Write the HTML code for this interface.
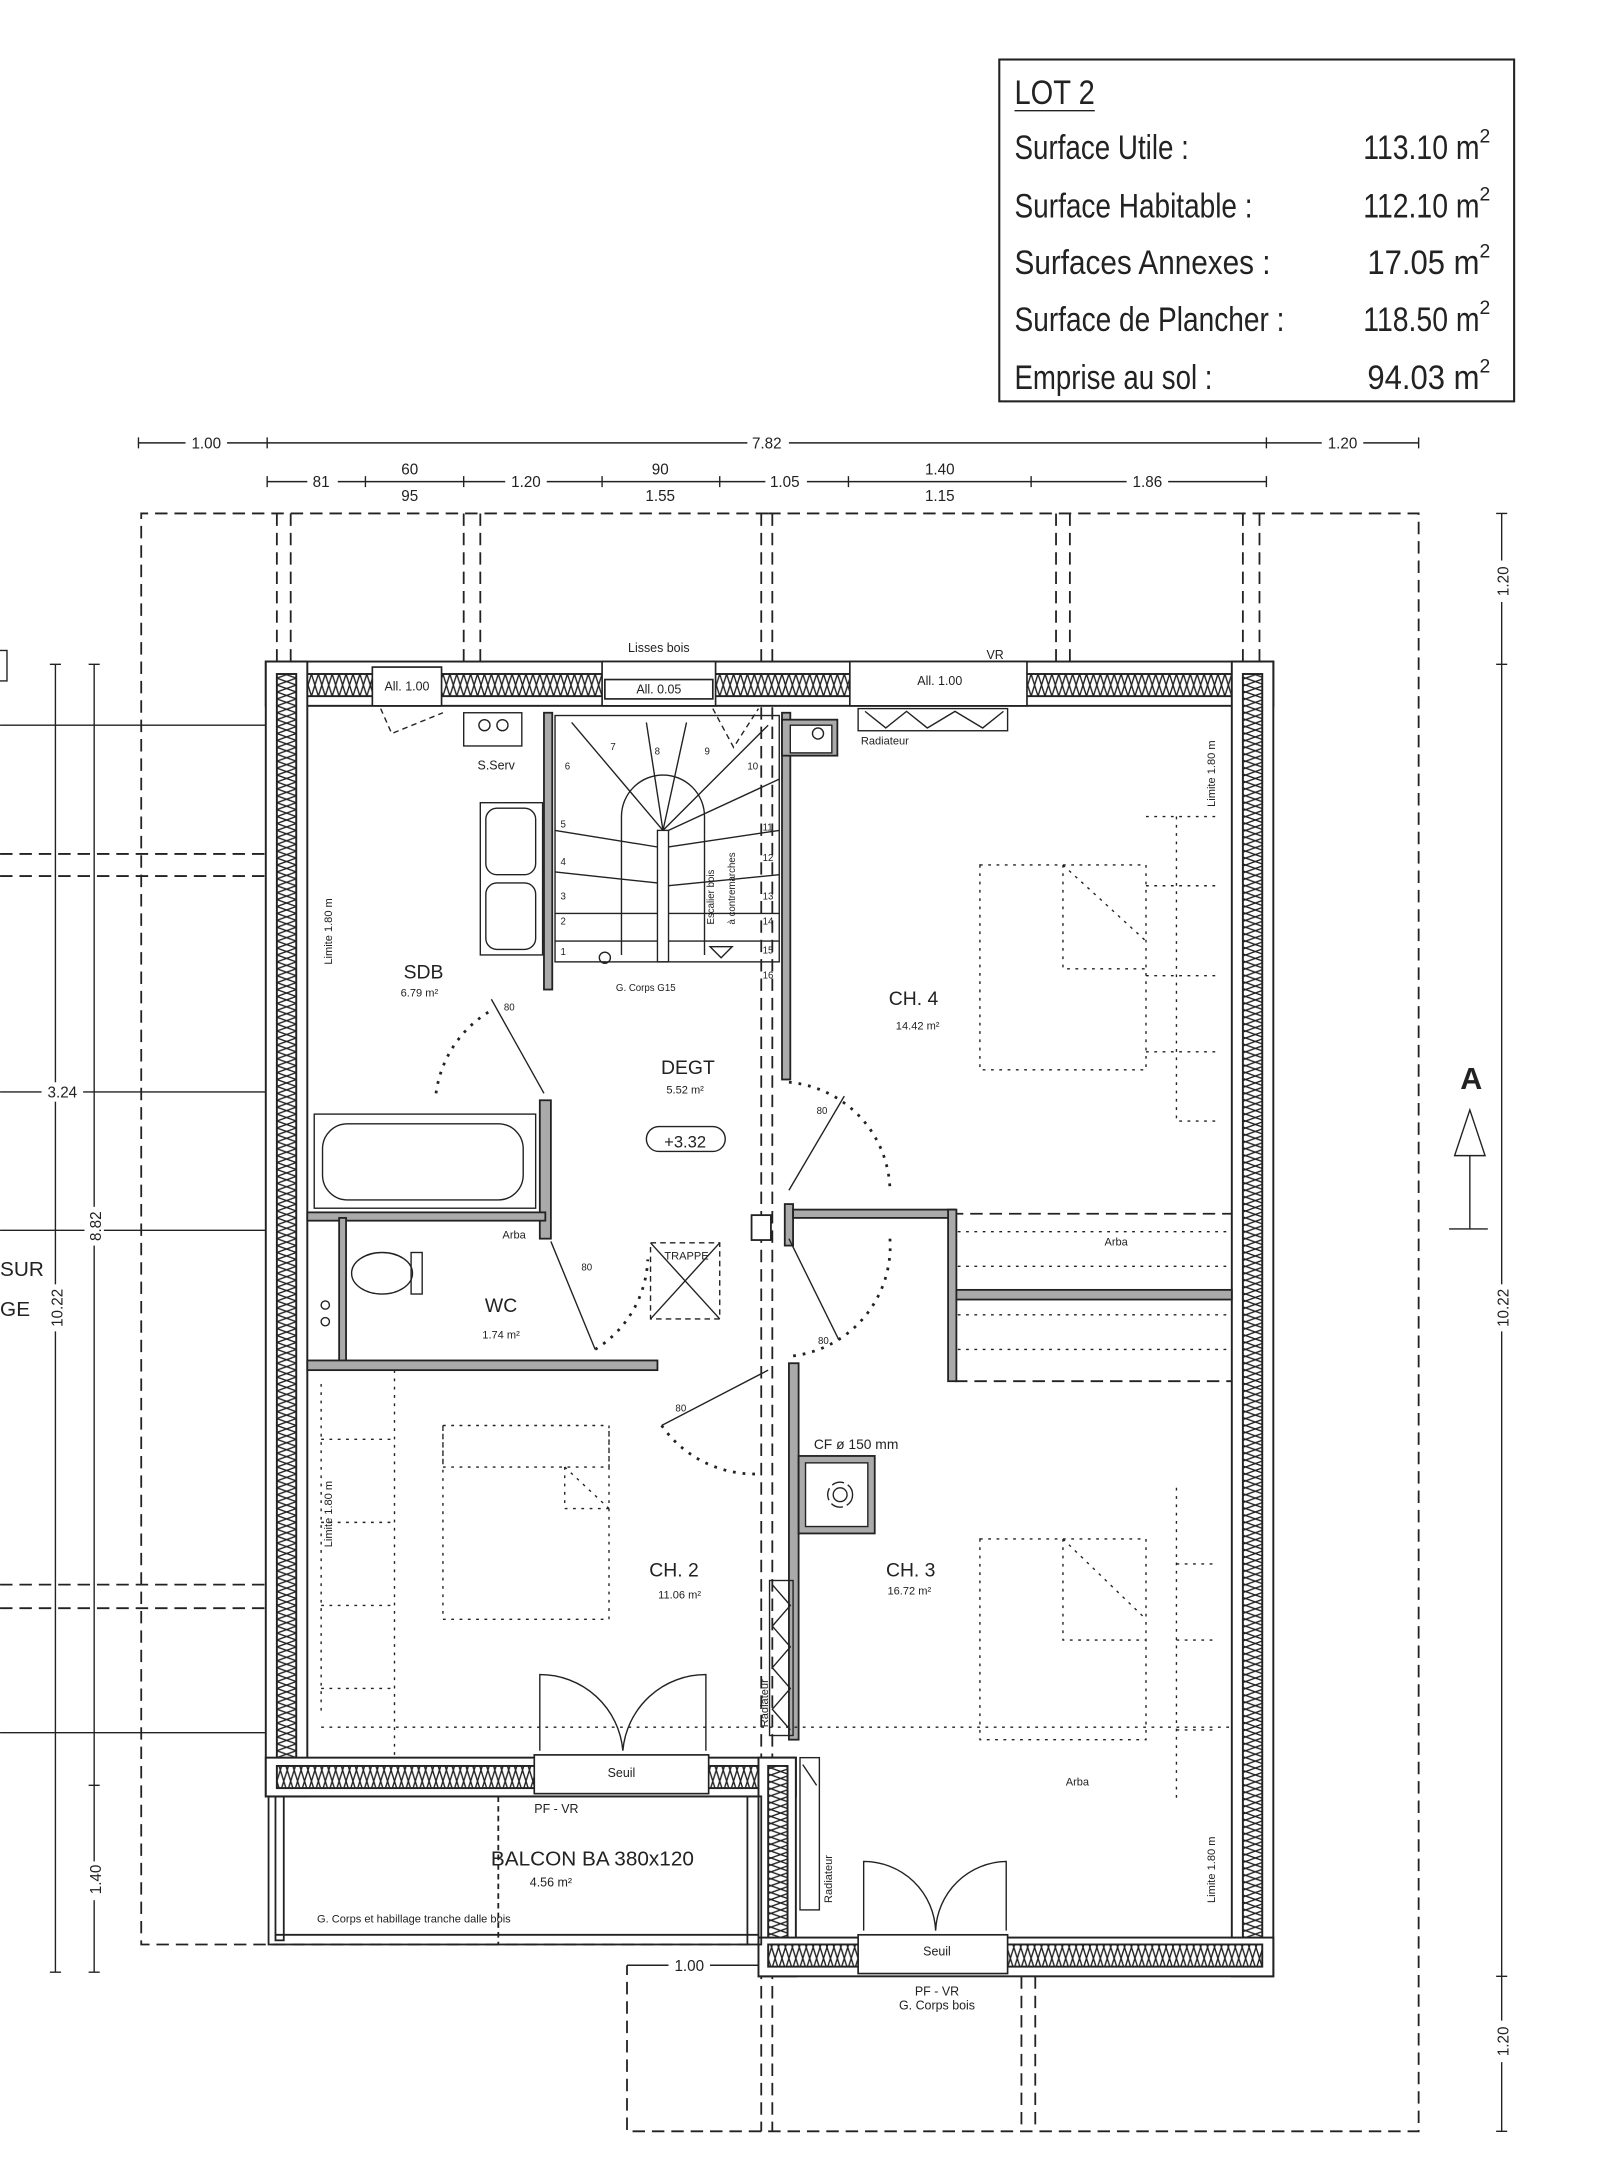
<!DOCTYPE html>
<html><head><meta charset="utf-8">
<style>
html,body{margin:0;padding:0;background:#fff;}
svg{display:block;}
text{font-family:"Liberation Sans",sans-serif;fill:#222;}
.n{font-family:"Liberation Sans Narrow","Liberation Sans",sans-serif;}
</style></head><body>
<svg width="1600" height="2177" viewBox="0 0 1156 1573" xmlns="http://www.w3.org/2000/svg">
<defs>
<pattern id="zz" x="200" y="0" width="14" height="10" patternUnits="userSpaceOnUse">
<path d="M0,0 L14,5 L0,10 M14,0 L0,5 L14,10" stroke="#222" stroke-width="1" fill="none"/>
</pattern>
<pattern id="zh" x="0" y="487" width="10" height="16" patternUnits="userSpaceOnUse">
<path d="M0,0 L5,16 L10,0 M0,16 L5,0 L10,16" stroke="#222" stroke-width="1" fill="none"/>
</pattern>
</defs>
<rect width="1156" height="1573" fill="#fff"/>

<!-- Info box -->
<rect x="722" y="43" width="372" height="247" fill="none" stroke="#222" stroke-width="1.5"/>
<g class="n" font-size="25">
<text x="733" y="75" textLength="58" lengthAdjust="spacingAndGlyphs">LOT 2</text>
<line x1="733" y1="80" x2="791" y2="80" stroke="#222"/>
<text x="733" y="115" textLength="126" lengthAdjust="spacingAndGlyphs">Surface Utile :</text>
<text x="733" y="157" textLength="172" lengthAdjust="spacingAndGlyphs">Surface Habitable :</text>
<text x="733" y="198" textLength="185" lengthAdjust="spacingAndGlyphs">Surfaces  Annexes :</text>
<text x="733" y="239" textLength="195" lengthAdjust="spacingAndGlyphs">Surface de Plancher :</text>
<text x="733" y="281" textLength="143" lengthAdjust="spacingAndGlyphs">Emprise au sol :</text>
<text x="985" y="115" textLength="84" lengthAdjust="spacingAndGlyphs">113.10 m</text><text x="1069" y="103" font-size="14">2</text>
<text x="985" y="157" textLength="84" lengthAdjust="spacingAndGlyphs">112.10 m</text><text x="1069" y="145" font-size="14">2</text>
<text x="988" y="198" textLength="81" lengthAdjust="spacingAndGlyphs">17.05 m</text><text x="1069" y="186" font-size="14">2</text>
<text x="985" y="239" textLength="84" lengthAdjust="spacingAndGlyphs">118.50 m</text><text x="1069" y="227" font-size="14">2</text>
<text x="988" y="281" textLength="81" lengthAdjust="spacingAndGlyphs">94.03 m</text><text x="1069" y="269" font-size="14">2</text>
</g>

<!-- top dimension lines -->
<g stroke="#222" stroke-width="1" fill="none">
<line x1="100" y1="320" x2="1025" y2="320"/>
<path d="M100,316 v8 M193,316 v8 M915,316 v8 M1025,316 v8"/>
<line x1="193" y1="348" x2="915" y2="348"/>
<path d="M193,344 v8 M264,344 v8 M335,344 v8 M435,344 v8 M520,344 v8 M613,344 v8 M745,344 v8 M915,344 v8"/>
</g>
<g font-size="11" text-anchor="middle">
<rect x="134" y="313" width="30" height="14" fill="#fff"/><text x="149" y="324">1.00</text>
<rect x="540" y="313" width="30" height="14" fill="#fff"/><text x="554" y="324">7.82</text>
<rect x="955" y="313" width="30" height="14" fill="#fff"/><text x="970" y="324">1.20</text>
<rect x="222" y="341" width="22" height="14" fill="#fff"/><text x="232" y="352">81</text>
<text x="296" y="343">60</text><text x="296" y="362">95</text>
<rect x="365" y="341" width="30" height="14" fill="#fff"/><text x="380" y="352">1.20</text>
<text x="477" y="343">90</text><text x="477" y="362">1.55</text>
<rect x="553" y="341" width="30" height="14" fill="#fff"/><text x="567" y="352">1.05</text>
<text x="679" y="343">1.40</text><text x="679" y="362">1.15</text>
<rect x="814" y="341" width="30" height="14" fill="#fff"/><text x="829" y="352">1.86</text>
</g>

<!-- dashed outlines -->
<g stroke="#222" stroke-width="1.3" fill="none" stroke-dasharray="9,5">
<path d="M555,371 H102 V1405 H555"/>
<path d="M555,371 H1025 V1540 H453 V1420"/>
<path d="M200,371 V480 M210,371 V480 M335,371 V480 M347,371 V480 M550,371 V1540 M558,371 V1540 M763,371 V480 M773,371 V480 M898,371 V480 M910,371 V480"/>
<path d="M738,1428 V1540 M748,1428 V1540"/>
<path d="M0,617 H193 M0,633 H193 M0,1145 H193 M0,1162 H193"/>
<path d="M575,877 H890 M690,998 H890"/>
</g>

<!-- right dims -->
<g stroke="#222" stroke-width="1" fill="none">
<line x1="1085" y1="371" x2="1085" y2="1540"/>
<path d="M1081,371 h8 M1081,480 h8 M1081,1428 h8 M1081,1540 h8"/>
<line x1="40" y1="480" x2="40" y2="1425"/><line x1="68" y1="480" x2="68" y2="1425"/>
<path d="M36,480 h8 M36,1425 h8 M64,480 h8 M64,1290 h8 M64,1425 h8"/>
<path d="M0,524 H193 M0,789 H193 M0,889 H193 M0,1252 H193"/>
<rect x="-5" y="470" width="10" height="22"/>
<line x1="1047" y1="888" x2="1075" y2="888"/><line x1="1062" y1="835" x2="1062" y2="888"/>
<path d="M1051,835 L1062,802 L1073,835 Z"/>
<line x1="453" y1="1420" x2="548" y2="1420"/>
</g>
<text x="1063" y="787" font-size="22" font-weight="bold" text-anchor="middle">A</text>
<g font-size="11" text-anchor="middle">
<rect x="1078" y="405" width="14" height="30" fill="#fff"/><text transform="translate(1090,420) rotate(-90)">1.20</text>
<rect x="1078" y="928" width="14" height="34" fill="#fff"/><text transform="translate(1090,945) rotate(-90)">10.22</text>
<rect x="1078" y="1460" width="14" height="30" fill="#fff"/><text transform="translate(1090,1475) rotate(-90)">1.20</text>
<rect x="33" y="928" width="14" height="34" fill="#fff"/><text transform="translate(45,945) rotate(-90)">10.22</text>
<rect x="61" y="872" width="14" height="28" fill="#fff"/><text transform="translate(73,886) rotate(-90)">8.82</text>
<rect x="61" y="1345" width="14" height="28" fill="#fff"/><text transform="translate(73,1358) rotate(-90)">1.40</text>
<rect x="30" y="782" width="30" height="14" fill="#fff"/><text x="45" y="793">3.24</text>
<rect x="483" y="1413" width="30" height="14" fill="#fff"/><text x="498" y="1424">1.00</text>
</g>
<text x="0" y="922" font-size="15">SUR</text><text x="0" y="951" font-size="15">GE</text>

<!-- exterior walls -->
<g stroke="#222" stroke-width="1.4">
<rect x="192" y="478" width="728" height="32" fill="#fff"/>
<rect x="200" y="487" width="712" height="16" fill="url(#zh)"/>
<rect x="192" y="478" width="30" height="820" fill="#fff"/>
<rect x="200" y="487" width="14" height="800" fill="url(#zz)"/>
<rect x="890" y="478" width="30" height="950" fill="#fff"/>
<rect x="898" y="487" width="14" height="933" fill="url(#zz)"/>
<rect x="192" y="1270" width="383" height="28" fill="#fff"/>
<rect x="200" y="1276" width="370" height="16" fill="url(#zh)"/>
<rect x="548" y="1270" width="27" height="158" fill="#fff"/>
<rect x="555" y="1276" width="14" height="144" fill="url(#zz)"/>
<rect x="548" y="1400" width="372" height="28" fill="#fff"/>
<rect x="555" y="1405" width="357" height="16" fill="url(#zh)"/>
</g>
<!-- openings -->
<g stroke="#222" stroke-width="1.2" fill="#fff">
<rect x="269" y="482" width="50" height="28"/>
<rect x="435" y="478" width="82" height="32"/><rect x="437" y="491" width="78" height="14"/>
<rect x="614" y="478" width="128" height="32"/>
<rect x="386" y="1268" width="126" height="28"/>
<rect x="620" y="1398" width="108" height="28"/>
</g>
<g font-size="9" text-anchor="middle">
<text x="294" y="499">All. 1.00</text>
<text x="476" y="501">All. 0.05</text><text x="476" y="471">Lisses bois</text>
<text x="679" y="495">All. 1.00</text><text x="719" y="476">VR</text>
<text x="449" y="1284">Seuil</text><text x="677" y="1413">Seuil</text>
<text x="402" y="1310">PF - VR</text>
<text x="677" y="1442">PF - VR</text><text x="677" y="1452">G. Corps bois</text>
<text x="299" y="1389" font-size="8">G. Corps et habillage tranche dalle bois</text>
</g>

<!-- balcony -->
<g stroke="#222" stroke-width="1.3" fill="none">
<rect x="194" y="1298" width="356" height="107"/>
<rect x="199" y="1298" width="6" height="104"/>
<line x1="199" y1="1398" x2="548" y2="1398"/>
<line x1="360" y1="1298" x2="360" y2="1405" stroke-dasharray="4,3"/>
<line x1="540" y1="1298" x2="540" y2="1405"/>
</g>
<text x="428" y="1348" font-size="15" text-anchor="middle">BALCON BA 380x120</text>
<text x="398" y="1363" font-size="9" text-anchor="middle">4.56 m²</text>

<!-- interior walls grey -->
<g fill="#aaa" stroke="#222" stroke-width="1.3">
<rect x="393" y="515" width="6" height="200"/>
<rect x="565" y="515" width="6" height="265"/>
<rect x="390" y="795" width="8" height="100"/>
<rect x="222" y="876" width="172" height="6"/>
<rect x="245" y="880" width="5" height="105"/>
<rect x="222" y="983" width="253" height="7"/>
<rect x="567" y="870" width="6" height="30"/>
<rect x="573" y="874" width="117" height="6"/>
<rect x="685" y="874" width="6" height="124"/>
<rect x="691" y="932" width="199" height="7"/>
<rect x="570" y="985" width="7" height="272"/>
<rect x="577" y="1052" width="55" height="56"/>
<rect x="565" y="520" width="40" height="26"/>
</g>
<rect x="582" y="1057" width="45" height="46" fill="#fff" stroke="#222"/>
<circle cx="607" cy="1080" r="9" fill="none" stroke="#222" stroke-dasharray="9,3"/>
<circle cx="607" cy="1080" r="5" fill="none" stroke="#222"/>
<text x="588" y="1047" font-size="10">CF ø 150 mm</text>
<rect x="571" y="524" width="30" height="20" fill="#fff" stroke="#222"/><circle cx="591" cy="530" r="4" fill="none" stroke="#222"/>
<rect x="543" y="878" width="14" height="18" fill="#fff" stroke="#222" stroke-width="1.3"/>

<!-- staircase -->
<g stroke="#222" stroke-width="1" fill="none">
<rect x="401" y="517" width="162" height="178"/>
<rect x="475" y="600" width="8" height="95"/>
<line x1="401" y1="600" x2="475" y2="612"/><line x1="401" y1="630" x2="475" y2="638"/>
<line x1="401" y1="660" x2="475" y2="660"/><line x1="401" y1="680" x2="475" y2="680"/>
<line x1="483" y1="660" x2="563" y2="660"/><line x1="483" y1="680" x2="563" y2="680"/>
<line x1="483" y1="640" x2="563" y2="632"/><line x1="483" y1="612" x2="563" y2="600"/>
<line x1="483" y1="600" x2="563" y2="563"/>
<path d="M479,600 L413,522 M479,600 L467,522 M479,600 L496,522 M479,600 L555,524"/>
<path d="M449,690 V590 A30,30 0 0 1 509,590 V690"/>
<circle cx="437" cy="692" r="4"/>
<path d="M513,684 L521,692 L529,684 Z"/>
</g>
<g font-size="7">
<text x="405" y="690">1</text><text x="405" y="668">2</text><text x="405" y="650">3</text><text x="405" y="625">4</text><text x="405" y="598">5</text><text x="408" y="556">6</text>
<text x="441" y="542">7</text><text x="473" y="545">8</text><text x="509" y="545">9</text><text x="540" y="556">10</text>
<text x="551" y="600">11</text><text x="551" y="622">12</text><text x="551" y="650">13</text><text x="551" y="668">14</text><text x="551" y="689">15</text><text x="551" y="707">16</text>
<text transform="translate(516,668) rotate(-90)">Escalier bois</text>
<text transform="translate(531,668) rotate(-90)">à contremarches</text>
<text x="445" y="716">G. Corps G15</text>
</g>

<!-- fixtures -->
<g stroke="#222" stroke-width="1" fill="none">
<rect x="335" y="515" width="42" height="24"/><circle cx="350" cy="524" r="4"/><circle cx="363" cy="524" r="4"/>
<rect x="347" y="580" width="45" height="110"/><rect x="351" y="584" width="36" height="48" rx="8"/><rect x="351" y="638" width="36" height="48" rx="8"/>
<rect x="227" y="805" width="160" height="68"/><rect x="233" y="812" width="145" height="55" rx="18"/>
<ellipse cx="276" cy="920" rx="22" ry="15"/><rect x="297" y="905" width="8" height="30"/>
<circle cx="235" cy="943" r="3"/><circle cx="235" cy="955" r="3"/>
<rect x="620" y="512" width="108" height="16"/><path d="M625,514 L640,526 L655,514 L670,526 L690,514 L710,526 L725,514"/>
<rect x="556" y="1142" width="17" height="112"/><path d="M558,1145 L571,1160 L558,1175 L571,1190 L558,1205 L571,1220 L558,1235 L571,1250"/>
<rect x="578" y="1270" width="14" height="110"/><path d="M580,1275 L590,1290"/>
</g>
<text transform="translate(555,1248) rotate(-90)" font-size="8">Radiateur</text>
<text transform="translate(601,1375) rotate(-90)" font-size="8">Radiateur</text>
<text x="622" y="538" font-size="8">Radiateur</text>
<text x="345" y="556" font-size="9">S.Serv</text>

<!-- doors -->
<g stroke="#222" stroke-width="1" fill="none">
<line x1="355" y1="722" x2="393" y2="790"/>
<path d="M315,790 A82,82 0 0 1 355,730" stroke-dasharray="2,5" stroke-width="2"/>
<line x1="398" y1="897" x2="430" y2="975"/><path d="M430,975 A80,80 0 0 0 468,910" stroke-dasharray="2,5" stroke-width="2"/>
<line x1="478" y1="1030" x2="555" y2="990"/><path d="M478,1030 A82,82 0 0 0 548,1065" stroke-dasharray="2,5" stroke-width="2"/>
<line x1="570" y1="860" x2="610" y2="792"/><path d="M570,782 A80,80 0 0 1 643,860" stroke-dasharray="2,5" stroke-width="2"/>
<line x1="570" y1="895" x2="606" y2="968"/><path d="M643,895 A80,80 0 0 1 570,980" stroke-dasharray="2,5" stroke-width="2"/>
<path d="M390,1265 V1210 A60,60 0 0 1 450,1265 M510,1265 V1210 A60,60 0 0 0 450,1265"/>
<path d="M624,1395 V1345 A52,52 0 0 1 676,1395 M727,1395 V1345 A52,52 0 0 0 676,1395"/>
<path d="M275,512 L283,530 L320,515" stroke-dasharray="4,3"/>
<path d="M515,512 L530,540 L548,512" stroke-dasharray="4,3"/>
<rect x="470" y="898" width="50" height="55" stroke-dasharray="4,3"/>
<path d="M470,898 L520,953 M520,898 L470,953"/>
<rect x="467" y="814" width="57" height="18" rx="9"/>
</g>
<g font-size="7"><text x="364" y="730">80</text><text x="420" y="918">80</text><text x="488" y="1020">80</text><text x="590" y="805">80</text><text x="591" y="971">80</text></g>
<text x="480" y="910" font-size="8">TRAPPE</text>

<!-- beds and dotted -->
<g stroke="#222" stroke-width="1" fill="none" stroke-dasharray="2,4">
<rect x="708" y="625" width="120" height="148"/><path d="M768,625 V700 H828 M768,625 L828,680"/>
<path d="M828,590 H880 M850,590 V810 H880 M828,640 H880 M828,705 H880 M828,760 H880"/>
<rect x="708" y="1112" width="120" height="145"/><path d="M768,1112 V1185 H828 M768,1112 L828,1170"/>
<path d="M850,1075 V1300 M850,1130 H880 M850,1185 H880 M850,1250 H880"/>
<rect x="320" y="1030" width="120" height="140"/><path d="M320,1030 V1060 H440 V1030 M408,1060 V1090 H440 M408,1060 L440,1090"/>
<path d="M232,1000 V1240 M232,1040 H282 M232,1100 H282 M232,1160 H282 M232,1220 H282"/>
<path d="M232,1248 H890 M222,990 H282 M285,990 V1268"/>
<path d="M692,890 H890 M692,915 H890 M692,950 H890 M692,975 H890"/>
</g>
<g font-size="8">
<text transform="translate(240,697) rotate(-90)">Limite 1.80 m</text>
<text transform="translate(878,583) rotate(-90)">Limite 1.80 m</text>
<text transform="translate(240,1118) rotate(-90)">Limite 1.80 m</text>
<text transform="translate(878,1375) rotate(-90)">Limite 1.80 m</text>
<text x="798" y="900">Arba</text><text x="363" y="895">Arba</text><text x="770" y="1290">Arba</text>
</g>

<!-- room labels -->
<g text-anchor="middle">
<text x="306" y="707" font-size="14">SDB</text><text x="303" y="720" font-size="8">6.79 m²</text>
<text x="497" y="776" font-size="14">DEGT</text><text x="495" y="790" font-size="8">5.52 m²</text>
<text x="495" y="829" font-size="12">+3.32</text>
<text x="660" y="726" font-size="14">CH. 4</text><text x="663" y="744" font-size="8">14.42 m²</text>
<text x="362" y="948" font-size="14">WC</text><text x="362" y="967" font-size="8">1.74 m²</text>
<text x="487" y="1139" font-size="14">CH. 2</text><text x="491" y="1155" font-size="8">11.06 m²</text>
<text x="658" y="1139" font-size="14">CH. 3</text><text x="657" y="1152" font-size="8">16.72 m²</text>
</g>
</svg>
</body></html>
